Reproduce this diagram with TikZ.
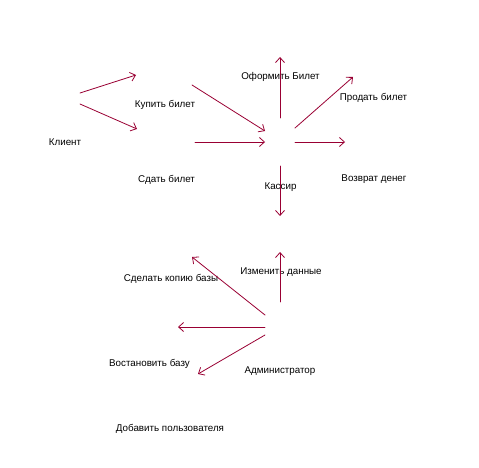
\documentclass[tikz,border=0pt]{standalone}
\usepackage{fontspec}
\setmainfont{Liberation Sans}
\usetikzlibrary{arrows.meta}
\definecolor{svyaz}{RGB}{153,0,51}
\begin{document}
\begin{tikzpicture}[x=1pt, y=-1pt, font=\fontsize{9.8}{12}\selectfont, line join=round, line cap=round, >={Straight Barb[length=5pt,width=9pt]}, strelka/.style={->, draw=svyaz, line width=0.8pt}, metka/.style={inner sep=0pt, anchor=center, yshift=-1.5pt}]
	\useasboundingbox (0,0) rectangle (479,468);
	% podpisi
	\node[metka] (klient) at (65,141) {Клиент};
	\node[metka] (kupit) at (165,103) {Купить билет};
	\node[metka] (sdat) at (166.5,178) {Сдать билет};
	\node[metka] (oformit) at (280.5,75.5) {Оформить Билет};
	\node[metka] (prodat) at (373.5,96.5) {Продать билет};
	\node[metka] (vozvrat) at (374,178) {Возврат денег};
	\node[metka] (kassir) at (280.5,185.5) {Кассир};
	\node[metka] (izmenit) at (281,271) {Изменить данные};
	\node[metka] (kopiya) at (171,277) {Сделать копию базы};
	\node[metka] (vostan) at (149.5,362) {Востановить базу};
	\node[metka] (admin) at (280,370) {Администратор};
	\node[metka] (dobavit) at (170,427) {Добавить пользователя};
	% tochki svyazey
	\coordinate (klientA) at (80,93);
	\coordinate (klientB) at (80,104);
	\coordinate (kupitV) at (136,75);
	\coordinate (sdatV) at (137,129);
	\coordinate (kupitI) at (192,85);
	\coordinate (sdatI) at (195,142);
	\coordinate (kassirA) at (265,131);
	\coordinate (kassirB) at (265,142);
	\coordinate (kassirN) at (280,118);
	\coordinate (kassirNE) at (295,128);
	\coordinate (kassirE) at (295,142);
	\coordinate (kassirS) at (280,166);
	\coordinate (oformitV) at (280,57);
	\coordinate (prodatV) at (353,77);
	\coordinate (vozvratV) at (345,142);
	\coordinate (kassirV) at (280,216);
	\coordinate (adminN) at (280,302);
	\coordinate (adminNW) at (265,315);
	\coordinate (adminW) at (265,327);
	\coordinate (adminSW) at (265,335);
	\coordinate (izmenitV) at (280,252);
	\coordinate (kopiyaV) at (192,257);
	\coordinate (vostanV) at (178,327);
	\coordinate (dobavitV) at (198,374);
	% strelki
	\draw[strelka] (klientA) -- (kupitV);
	\draw[strelka] (klientB) -- (sdatV);
	\draw[strelka] (kupitI) -- (kassirA);
	\draw[strelka] (sdatI) -- (kassirB);
	\draw[strelka] (kassirN) -- (oformitV);
	\draw[strelka] (kassirNE) -- (prodatV);
	\draw[strelka] (kassirE) -- (vozvratV);
	\draw[strelka] (kassirS) -- (kassirV);
	\draw[strelka] (adminN) -- (izmenitV);
	\draw[strelka] (adminNW) -- (kopiyaV);
	\draw[strelka] (adminW) -- (vostanV);
	\draw[strelka] (adminSW) -- (dobavitV);
\end{tikzpicture}
\end{document}
